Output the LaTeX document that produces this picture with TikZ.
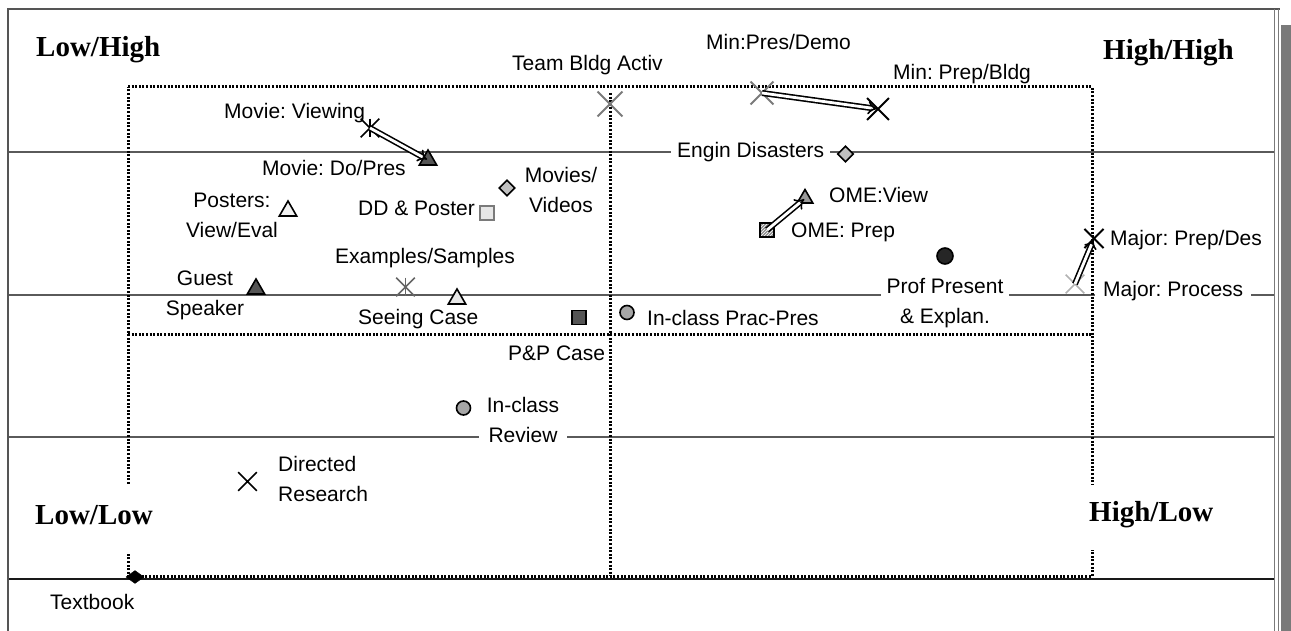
\documentclass[tikz,border=0pt]{standalone}
\usepackage{fontspec}
\setmainfont{Liberation Sans}
\newfontfamily\hdfont{Liberation Serif}
\usetikzlibrary{shapes.geometric,shapes.misc,arrows.meta,patterns}
\pgfdeclarelayer{bg}\pgfsetlayers{bg,main}
\definecolor{darkfill}{HTML}{555555}
\definecolor{lightfill}{HTML}{C0C0C0}
\definecolor{paleFill}{HTML}{E6E6E6}
\definecolor{circfill}{HTML}{A6A6A6}
\definecolor{gridgray}{HTML}{5A5A5A}
\definecolor{framegray}{HTML}{555555}
\definecolor{shadowgray}{HTML}{7A7A7A}
\frenchspacing
\begin{document}
\begin{tikzpicture}[x=1pt,y=-1pt,
  lbl/.style={font=\fontsize{21}{30}\selectfont, inner sep=0pt, text=black},
  wlbl/.style={lbl, fill=white, inner xsep=6pt, inner ysep=2pt},
  hd/.style={font=\hdfont\bfseries\fontsize{29}{34}\selectfont, inner sep=0pt, text=black},
  gridline/.style={draw=gridgray, line width=1.2pt},
  dotline/.style={draw=black, line width=3pt, dash pattern=on 2pt off 1.6pt},
  tri/.style={regular polygon, regular polygon sides=3, draw=black, line width=1.6pt, minimum size=20pt, inner sep=0pt},
  dia/.style={diamond, draw=black, line width=1.6pt, minimum size=16pt, inner sep=0pt, fill=lightfill},
  sq/.style={rectangle, draw=black, line width=1.6pt, minimum size=14pt, inner sep=0pt},
  circ/.style={circle, draw=black, line width=1.6pt, minimum size=14pt, inner sep=0pt, fill=circfill},
  xm/.style={cross out, draw=black, line width=1.7pt, minimum size=17pt, inner sep=0pt},
  dbl/.style={draw=black, double=white, double distance=2.8pt, line width=1.6pt, -{Implies}, shorten >=1pt}
]
\useasboundingbox (0,0) rectangle (1291,631);

% frame and shadow
\fill[shadowgray] (1281,25) rectangle (1292,632);
\draw[framegray, line width=1.6pt] (8,632) -- (8,9) -- (1280,9);
\draw[shadowgray, line width=1.2pt] (1274.5,9) -- (1274.5,632);
\draw[shadowgray, line width=1.2pt] (1278.5,9) -- (1278.5,632);

\begin{pgfonlayer}{bg}
  % grid lines
  \draw[gridline] (8,152) -- (1274,152);
  \draw[gridline] (8,295) -- (1274,295);
  \draw[gridline] (8,437) -- (1274,437);
  \draw[draw=black!90, line width=1.4pt] (8,579) -- (1274,579);
  % dotted quadrant box
  \draw[dotline] (128,87) -- (1092,87) -- (1092,576) -- (128,576) -- cycle;
  \draw[dotline] (610,93) -- (610,576);
  \draw[dotline] (128,334) -- (1092,334);
\end{pgfonlayer}

% quadrant headings
\node[hd, anchor=base west] (lh) at (36,57) {Low/High};
\node[hd, anchor=base west] (hh) at (1103,60) {High/High};
\node[hd, anchor=base west, fill=white, inner xsep=5pt, text height=39.5pt, text depth=28pt] (ll) at (30,524) {Low/Low};
\node[hd, anchor=base west, fill=white, inner xsep=5pt, text height=36pt, text depth=29pt] (hl) at (1084,521) {High/Low};

% labels
\node[lbl, anchor=base west] (tminpd) at (706,50) {Min:Pres/Demo};
\node[lbl, anchor=base west] (tteam) at (512,71) {Team Bldg Activ};
\node[lbl, anchor=base west] (tminpb) at (893,80) {Min: Prep/Bldg};
\node[lbl, anchor=base west] (tmvv) at (224,119) {Movie: Viewing};
\node[lbl, anchor=base west] (tmvd) at (262,176) {Movie: Do/Pres};
\node[wlbl, anchor=base west] (teng) at (671,158) {Engin Disasters};
\node[lbl, anchor=base west] (tdd) at (358,216) {DD \& Poster};
\node[lbl, anchor=base west] (tomev) at (829,203) {OME:View};
\node[lbl, anchor=base west] (tomep) at (791,238) {OME: Prep};
\node[lbl, anchor=base west] (tmajd) at (1110,246) {Major: Prep/Des};
\node[wlbl, anchor=base west, inner xsep=8pt] (tmajp) at (1095,296) {Major: Process};
\node[lbl, anchor=base west] (tex) at (335,264) {Examples/Samples};
\node[lbl, anchor=base west] (tsee) at (358,324) {Seeing Case};
\node[lbl, anchor=base west] (tprc) at (647,325) {In-class Prac-Pres};
\node[lbl, anchor=base west] (tpp) at (508,360) {P\&P Case};
\node[lbl, anchor=base west] (ttext) at (50,609) {Textbook};
\node[lbl, anchor=north, align=center] (tmovies) at (561,167) {Movies/\\Videos};
\node[lbl, anchor=north, align=center] (tposters) at (232,193) {Posters:\\View/Eval};
\node[lbl, anchor=north, align=center] (tguest) at (205,271) {Guest\\Speaker};
\node[wlbl, anchor=north, align=center] (tprof) at (945,276) {Prof Present\\\& Explan.};
\node[wlbl, anchor=north, align=center, inner xsep=8pt] (trev) at (523,395) {In-class\\Review};
\node[lbl, anchor=north west, align=left] (tdir) at (278,456) {Directed\\Research};

% markers
\node[xm, draw=shadowgray, line width=1.9pt, minimum size=23pt] (teamX) at (610,104) {};
\node[xm, draw=shadowgray, line width=1.9pt, minimum size=21pt] (minpdX) at (762,93) {};
\node[xm, line width=1.9pt, minimum size=20pt] (minpbX) at (878,109) {};
\node[xm] (mvvS) at (370,128) {};
\draw[line width=1.7pt] (mvvS.north) -- (mvvS.south);
\node[tri, fill=darkfill] (mvdT) at (428,160) {};
\node[dia] (moviesD) at (507,188) {};
\node[sq, draw=shadowgray, fill=paleFill] (ddS) at (487,213) {};
\node[tri, fill=white!95!black] (postersT) at (288,211) {};
\node[tri, fill=darkfill] (guestT) at (256,289) {};
\node[xm, draw=black!60] (exS) at (405.5,287) {};
\draw[black!60, line width=1.7pt] (exS.north) -- (exS.south);
\node[tri, fill=paleFill] (seeT) at (457,299) {};
\node[sq, fill=darkfill] (ppS) at (579,317.5) {};
\node[circ] (prcC) at (627,312.5) {};
\node[circ] (revC) at (463.5,408) {};
\node[dia] (engD) at (845.5,154) {};
\node[tri, fill=black!40, minimum size=18pt] (omeVT) at (805,198.5) {};
\node[sq, preaction={fill=black!45}, pattern=north east lines, pattern color=white] (omePS) at (767,230) {};
\node[circ, fill=black!85, minimum size=16pt] (profC) at (945,256) {};
\node[xm, draw=black!30] (majPX) at (1075,284) {};
\node[xm, line width=2.1pt] (majDX) at (1094,238.5) {};
\node[xm] (dirX) at (247.5,481.5) {};
\node[diamond, fill=black, draw=black, inner sep=0pt, minimum width=18pt, minimum height=13pt] (textD) at (135,577) {};

% double-line arrows
\draw[dbl] (mvvS.center) -- (mvdT.center);
\draw[dbl] (minpdX.center) -- (minpbX.center);
\draw[dbl] (omePS.center) -- (omeVT.center);
\draw[dbl] (majPX.center) -- (majDX.center);
\end{tikzpicture}
\end{document}
